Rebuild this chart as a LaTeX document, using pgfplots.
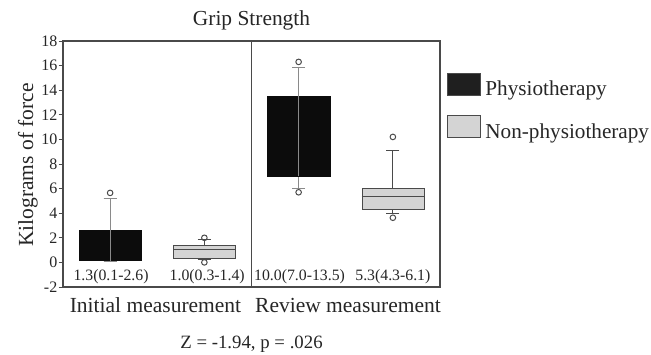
\documentclass[border=0pt]{standalone}
\usepackage{fontspec}
\setmainfont{Liberation Serif}
\usepackage{pgfplots}
\pgfplotsset{compat=1.18}
\usepgfplotslibrary{statistics}
\definecolor{boxgray}{HTML}{D4D4D4}
\definecolor{boxblack}{HTML}{0C0C0C}
\definecolor{linegray}{HTML}{8A8A8A}
\definecolor{axisgray}{HTML}{4A4A4A}
\definecolor{txt}{HTML}{262626}
\begin{document}
\begin{tikzpicture}[x=1pt,y=1pt]
\useasboundingbox (0,0) rectangle (651,355);
\begin{axis}[at={(63pt,68pt)}, anchor=south west,
  width=377pt, height=246pt, scale only axis,
  xmin=0, xmax=4, ymin=-2, ymax=18,
  ytick={-2,0,...,18}, xtick=\empty,
  axis line style={draw=axisgray, line width=1.3pt},
  ytick pos=left, tick align=outside, major tick length=4.5pt,
  tick style={axisgray, line width=0.9pt},
  yticklabel style={font=\fontsize{16}{18}\selectfont, text=txt, inner sep=1pt},
  /pgf/number format/assume math mode=true,
  boxplot/draw direction=y,
  clip=false,
  legend style={at={(1.0186,0.870)}, anchor=north west, draw=none, fill=none,
    inner sep=0pt, outer sep=0pt, nodes={inner sep=0pt, text=txt},
    font=\fontsize{21.2}{24}\selectfont, row sep=18pt, column sep=5pt,
    legend cell align=left},
  legend image code/.code={\draw[#1] (0pt,-6pt) rectangle (33pt,16pt);},
]
% divider
\draw[axisgray, line width=1.3pt] (axis cs:2,-2) -- (axis cs:2,18);
% Physiotherapy initial
\addplot[forget plot, draw=boxblack, fill=boxblack, mark=o, mark size=2.8pt,
  mark options={draw=axisgray, fill=white, line width=1pt},
  boxplot/every whisker/.style={linegray, line width=1.2pt},
  boxplot prepared={draw position=0.5, lower whisker=0.1, lower quartile=0.15,
    median=1.3, upper quartile=2.6, upper whisker=5.2,
    box extend=0.66, whisker extend=0.14}]
  coordinates {(0,5.65)};
\addplot[forget plot, linegray, line width=1.2pt] coordinates {(0.5,0.15) (0.5,2.6)};
% Non-physio initial
\addplot[forget plot, draw=axisgray, fill=boxgray, mark=o, mark size=2.8pt,
  mark options={draw=axisgray, fill=white, line width=1pt},
  boxplot/every whisker/.style={axisgray, line width=1pt},
  boxplot/every median/.style={axisgray, line width=1.2pt},
  boxplot prepared={draw position=1.5, lower whisker=0.22, lower quartile=0.38,
    median=1.05, upper quartile=1.4, upper whisker=1.85,
    box extend=0.66, whisker extend=0.14}]
  coordinates {(0,2.0) (0,0.0)};
% Physiotherapy review
\addplot[forget plot, draw=boxblack, fill=boxblack, mark=o, mark size=2.8pt,
  mark options={draw=axisgray, fill=white, line width=1pt},
  boxplot/every whisker/.style={linegray, line width=1.2pt},
  boxplot prepared={draw position=2.5, lower whisker=6.0, lower quartile=7.0,
    median=10.0, upper quartile=13.5, upper whisker=15.85,
    box extend=0.66, whisker extend=0.14}]
  coordinates {(0,16.3) (0,5.7)};
\addplot[forget plot, linegray, line width=1.2pt] coordinates {(2.5,7.0) (2.5,13.5)};
% Non-physio review
\addplot[forget plot, draw=axisgray, fill=boxgray, mark=o, mark size=2.8pt,
  mark options={draw=axisgray, fill=white, line width=1pt},
  boxplot/every whisker/.style={axisgray, line width=1pt},
  boxplot/every median/.style={axisgray, line width=1.2pt},
  boxplot prepared={draw position=3.5, lower whisker=4.0, lower quartile=4.33,
    median=5.33, upper quartile=6.0, upper whisker=9.1,
    box extend=0.66, whisker extend=0.14}]
  coordinates {(0,10.2) (0,3.63)};
% value labels
\node[anchor=base, font=\fontsize{15.8}{18}\selectfont, text=txt] at (axis cs:0.51,-1.51) {1.3(0.1-2.6)};
\node[anchor=base, font=\fontsize{15.8}{18}\selectfont, text=txt] at (axis cs:1.53,-1.51) {1.0(0.3-1.4)};
\node[anchor=base, font=\fontsize{15.8}{18}\selectfont, text=txt] at (axis cs:2.51,-1.51) {10.0(7.0-13.5)};
\node[anchor=base, font=\fontsize{15.8}{18}\selectfont, text=txt] at (axis cs:3.5,-1.51) {5.3(4.3-6.1)};
\addlegendimage{fill=black!88, draw=axisgray}
\addlegendentry{Physiotherapy}
\addlegendimage{fill=boxgray, draw=axisgray}
\addlegendentry{Non-physiotherapy}
\end{axis}
\node[anchor=base, font=\fontsize{21.5}{24}\selectfont, text=txt] at (155.5,42) {Initial measurement};
\node[anchor=base, font=\fontsize{21.5}{24}\selectfont, text=txt] at (348,42) {Review measurement};
\node[anchor=base, font=\fontsize{21.4}{24}\selectfont, text=txt] at (251.5,329) {Grip Strength};
\node[anchor=base, font=\fontsize{21.5}{24}\selectfont, text=txt, rotate=90] at (33,190) {Kilograms of force};
\node[anchor=base, font=\fontsize{18.8}{21}\selectfont, text=txt] at (251.5,6) {Z = -1.94, p = .026};
\end{tikzpicture}
\end{document}
